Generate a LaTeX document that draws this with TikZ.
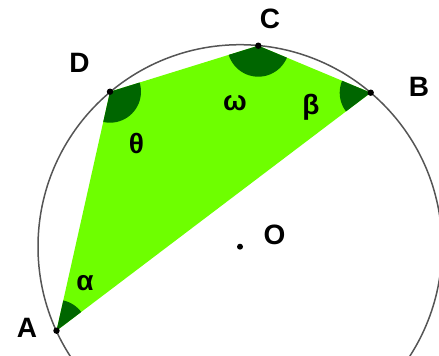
\documentclass[tikz,border=0pt]{standalone}
\usepackage{fontspec}
\setmainfont{Liberation Sans}
\definecolor{lime}{RGB}{110,255,0}
\definecolor{dgreen}{RGB}{0,102,0}
\definecolor{circgray}{RGB}{85,85,85}
\begin{document}
\begin{tikzpicture}[x=1pt,y=-1pt,
  lab/.style={font=\fontsize{28}{32}\selectfont\bfseries, inner sep=0pt},
  pt/.style={fill=black},
  circ/.style={draw=circgray, line width=1.5pt}]
\useasboundingbox (0,0) rectangle (439,356);
\coordinate (O) at (240,246.7);
\coordinate (A) at (56.5,330.7);
\coordinate (B) at (370.7,92.7);
\coordinate (C) at (258.3,45.7);
\coordinate (D) at (110,91.7);
% polygon
\fill[lime] (A) -- (D) -- (C) -- (B) -- cycle;
\begin{scope}
  \clip (A) -- (D) -- (C) -- (B) -- cycle;
  \fill[dgreen] (A) circle (31);
  \fill[dgreen] (B) circle (31);
  \fill[dgreen] (C) circle (31);
  \fill[dgreen] (D) circle (31);
\end{scope}
% circle
\begin{scope}
  \clip (0,0) rectangle (439,356);
  \draw[circ] (O) circle (202);
\end{scope}
% points
\fill[pt] (A) circle (3.2);
\fill[pt] (B) circle (3.2);
\fill[pt] (C) circle (3.2);
\fill[pt] (D) circle (3.2);
\fill[pt] (O) circle (3);
% labels
\node[lab] (lA) at (27,328) {A};
\node[lab] (lB) at (419,87) {B};
\node[lab] (lC) at (270,19) {C};
\node[lab] (lD) at (79.5,62.5) {D};
\node[lab] (lO) at (274.5,235) {O};
\node[lab] (lal) at (85,283) {α};
\node[lab] (lth) at (136.5,143) {θ};
\node[lab] (lom) at (235,103.5) {ω};
\node[lab] (lbe) at (311,107) {β};
\end{tikzpicture}
\end{document}
